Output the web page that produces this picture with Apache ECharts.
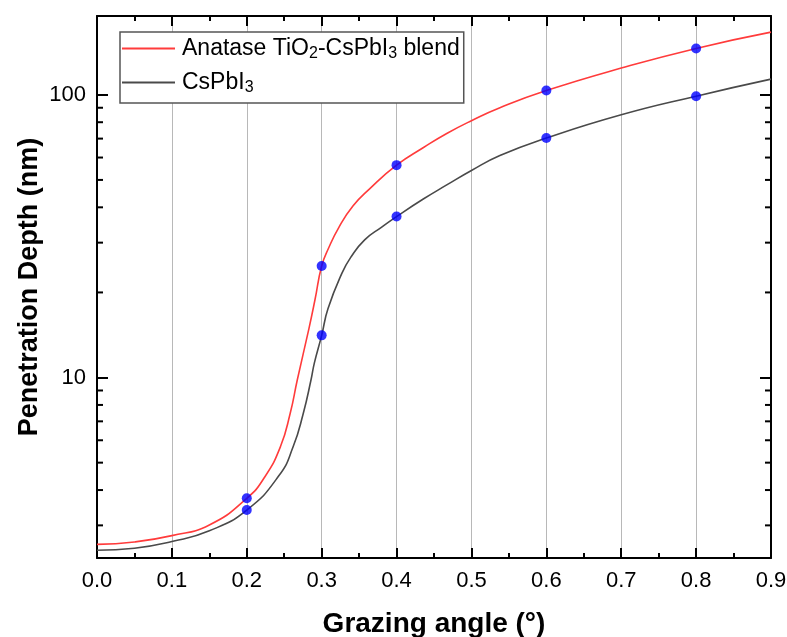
<!DOCTYPE html>
<html>
<head>
<meta charset="utf-8">
<script src="https://cdn.jsdelivr.net/npm/echarts@6/dist/echarts.min.js"></script>
<style>
html,body{margin:0;padding:0;background:#fff;}
#chart{width:787px;height:637px;}
</style>
</head>
<body>
<div id="chart"></div>
<script>
// ---- data ----
var blendName = 'Anatase TiO2-CsPbI3 blend';
var pureName = 'CsPbI3';
var blendCurve = [
  [0, 2.57], [0.05, 2.62], [0.1, 2.76], [0.15, 3.01], [0.2, 3.74], [0.224, 4.45],
  [0.245, 5.70], [0.258, 7.48], [0.2675, 9.82], [0.283, 14.9], [0.291, 18.8],
  [0.3, 24.8], [0.309, 28.6], [0.323, 34.0], [0.342, 40.5], [0.364, 46.5],
  [0.4, 56.4], [0.436, 65.1], [0.467, 73.0], [0.5, 81.0], [0.538, 90.0],
  [0.6, 103.5], [0.7, 124.3], [0.8, 145.9], [0.9, 166.6]
];
var pureCurve = [
  [0, 2.45], [0.05, 2.49], [0.1, 2.63], [0.15, 2.87], [0.2, 3.40], [0.243, 4.50],
  [0.262, 5.70], [0.2755, 7.48], [0.2858, 9.82], [0.2902, 11.25], [0.3, 14.1],
  [0.3084, 17.5], [0.3271, 23.4], [0.3396, 26.8], [0.3574, 30.7], [0.3797, 34.0],
  [0.4, 37.1], [0.4357, 42.8], [0.467, 48.0], [0.5, 54.0], [0.538, 61.0],
  [0.6, 70.3], [0.7, 85.0], [0.8, 98.9], [0.9, 113.6]
];
var markerAngles = [0.2, 0.3, 0.4, 0.6, 0.8];
var blendMarkers = [3.74, 24.8, 56.4, 103.5, 145.9];
var pureMarkers = [3.40, 14.1, 37.1, 70.3, 98.9];
var xMin = 0, xMax = 0.9, xStep = 0.1;
var yMin = 2.3, yMax = 190;
var yMinorTicks = [3, 4, 5, 6, 7, 8, 9, 20, 30, 40, 50, 60, 70, 80, 90];

// ---- chart ----
var FONT = '"Liberation Sans", Arial, sans-serif';
var chart = echarts.init(document.getElementById('chart'), null, {renderer: 'canvas'});

var markerData = [];
markerAngles.forEach(function (a, i) { markerData.push([a, blendMarkers[i]]); });
markerAngles.forEach(function (a, i) { markerData.push([a, pureMarkers[i]]); });

function isDecade(v) {
  var l = Math.log10(v);
  return Math.abs(l - Math.round(l)) < 1e-6;
}

var tickCommon = {show: true, inside: true, length: 10, lineStyle: {color: '#000', width: 2}};
var minorCommon = {show: true, splitNumber: 2, length: 5, lineStyle: {color: '#000', width: 2}};

var option = {
  animation: false,
  backgroundColor: '#fff',
  textStyle: {fontFamily: FONT},
  grid: {left: 97, right: 16, top: 16, bottom: 79, containLabel: false, outerBoundsMode: 'none'},
  legend: {
    orient: 'vertical',
    left: 120, top: 32,
    data: [blendName, pureName],
    icon: 'rect',
    itemWidth: 53, itemHeight: 2,
    itemGap: 9,
    padding: [5, 4, 7, 2],
    borderColor: '#555', borderWidth: 1.5,
    backgroundColor: '#fff',
    formatter: function (n) {
      return n === blendName
        ? '{n|Anatase TiO}{s|2}{n|-CsPbI}{s|3}{n| blend}'
        : '{n|CsPbI}{s|3}';
    },
    textStyle: {
      fontFamily: FONT, color: '#000', padding: [0, 0, 0, 2],
      rich: {
        n: {fontSize: 23, lineHeight: 27, fontFamily: FONT, color: '#000'},
        s: {fontSize: 16, lineHeight: 14, verticalAlign: 'bottom', fontFamily: FONT, color: '#000'}
      }
    }
  },
  xAxis: [{
    type: 'value', min: xMin, max: xMax, interval: xStep,
    name: 'Grazing angle (°)', nameLocation: 'middle', nameGap: 52,
    nameTextStyle: {fontFamily: FONT, fontSize: 28, fontWeight: 'bold', color: '#000'},
    axisLine: {show: true, onZero: false, lineStyle: {color: '#000', width: 2}},
    axisTick: tickCommon,
    minorTick: minorCommon,
    axisLabel: {fontFamily: FONT, fontSize: 22, color: '#000', margin: 12,
      formatter: function (v) { return v.toFixed(1); }},
    splitLine: {show: true, lineStyle: {color: '#b8b8b8', width: 1}}
  }, {
    type: 'value', position: 'top', min: xMin, max: xMax, interval: xStep,
    axisLine: {show: true, onZero: false, lineStyle: {color: '#000', width: 2}},
    axisTick: tickCommon,
    minorTick: minorCommon,
    axisLabel: {show: false},
    splitLine: {show: false}
  }],
  yAxis: [{
    type: 'log', logBase: 10, min: yMin, max: yMax,
    name: 'Penetration Depth (nm)', nameLocation: 'middle', nameGap: 54,
    nameMoveOverlap: false,
    nameTextStyle: {fontFamily: FONT, fontSize: 27, fontWeight: 'bold', color: '#000'},
    axisLine: {show: true, onZero: false, lineStyle: {color: '#000', width: 2}},
    axisTick: {show: true, inside: true, length: 11, lineStyle: {color: '#000', width: 2}},
    axisLabel: {fontFamily: FONT, fontSize: 22, color: '#000', margin: 11,
      showMinLabel: false, showMaxLabel: false,
      formatter: function (v) { return isDecade(v) ? String(Math.round(v)) : ''; }},
    splitLine: {show: false}
  }, {
    type: 'log', logBase: 10, min: yMin, max: yMax, position: 'right',
    axisLine: {show: true, onZero: false, lineStyle: {color: '#000', width: 2}},
    axisTick: {show: true, inside: true, length: 11, lineStyle: {color: '#000', width: 2}},
    axisLabel: {show: false},
    splitLine: {show: false}
  }],
  series: [{
    name: blendName, type: 'line', data: blendCurve,
    xAxisIndex: 0, yAxisIndex: 0,
    showSymbol: false, symbol: 'none', smooth: 0.5,
    lineStyle: {color: '#ff3b3b', width: 1.6}, itemStyle: {color: '#ff3b3b'},
    z: 3
  }, {
    name: pureName, type: 'line', data: pureCurve,
    xAxisIndex: 0, yAxisIndex: 0,
    showSymbol: false, symbol: 'none', smooth: 0.5,
    lineStyle: {color: '#4a4a4a', width: 1.6}, itemStyle: {color: '#4a4a4a'},
    z: 3
  }, {
    name: 'markers', type: 'scatter', data: markerData,
    xAxisIndex: 0, yAxisIndex: 0,
    symbol: 'circle', symbolSize: 10,
    itemStyle: {color: '#0000ff'}, z: 4, silent: true
  }, {
    name: 'minorTicks', type: 'custom',
    xAxisIndex: 0, yAxisIndex: 0,
    data: yMinorTicks.map(function (v) { return [xMin, v]; }),
    encode: {x: 0, y: 1},
    silent: true, clip: false, z: 5,
    renderItem: function (params, api) {
      var v = api.value(1);
      var pl = api.coord([xMin, v]);
      var pr = api.coord([xMax, v]);
      var st = {stroke: '#000', lineWidth: 2};
      return {
        type: 'group',
        children: [
          {type: 'line', shape: {x1: pl[0], y1: pl[1], x2: pl[0] + 6, y2: pl[1]}, style: st},
          {type: 'line', shape: {x1: pr[0] - 6, y1: pr[1], x2: pr[0], y2: pr[1]}, style: st}
        ]
      };
    }
  }]
};
chart.setOption(option);
</script>
</body>
</html>
